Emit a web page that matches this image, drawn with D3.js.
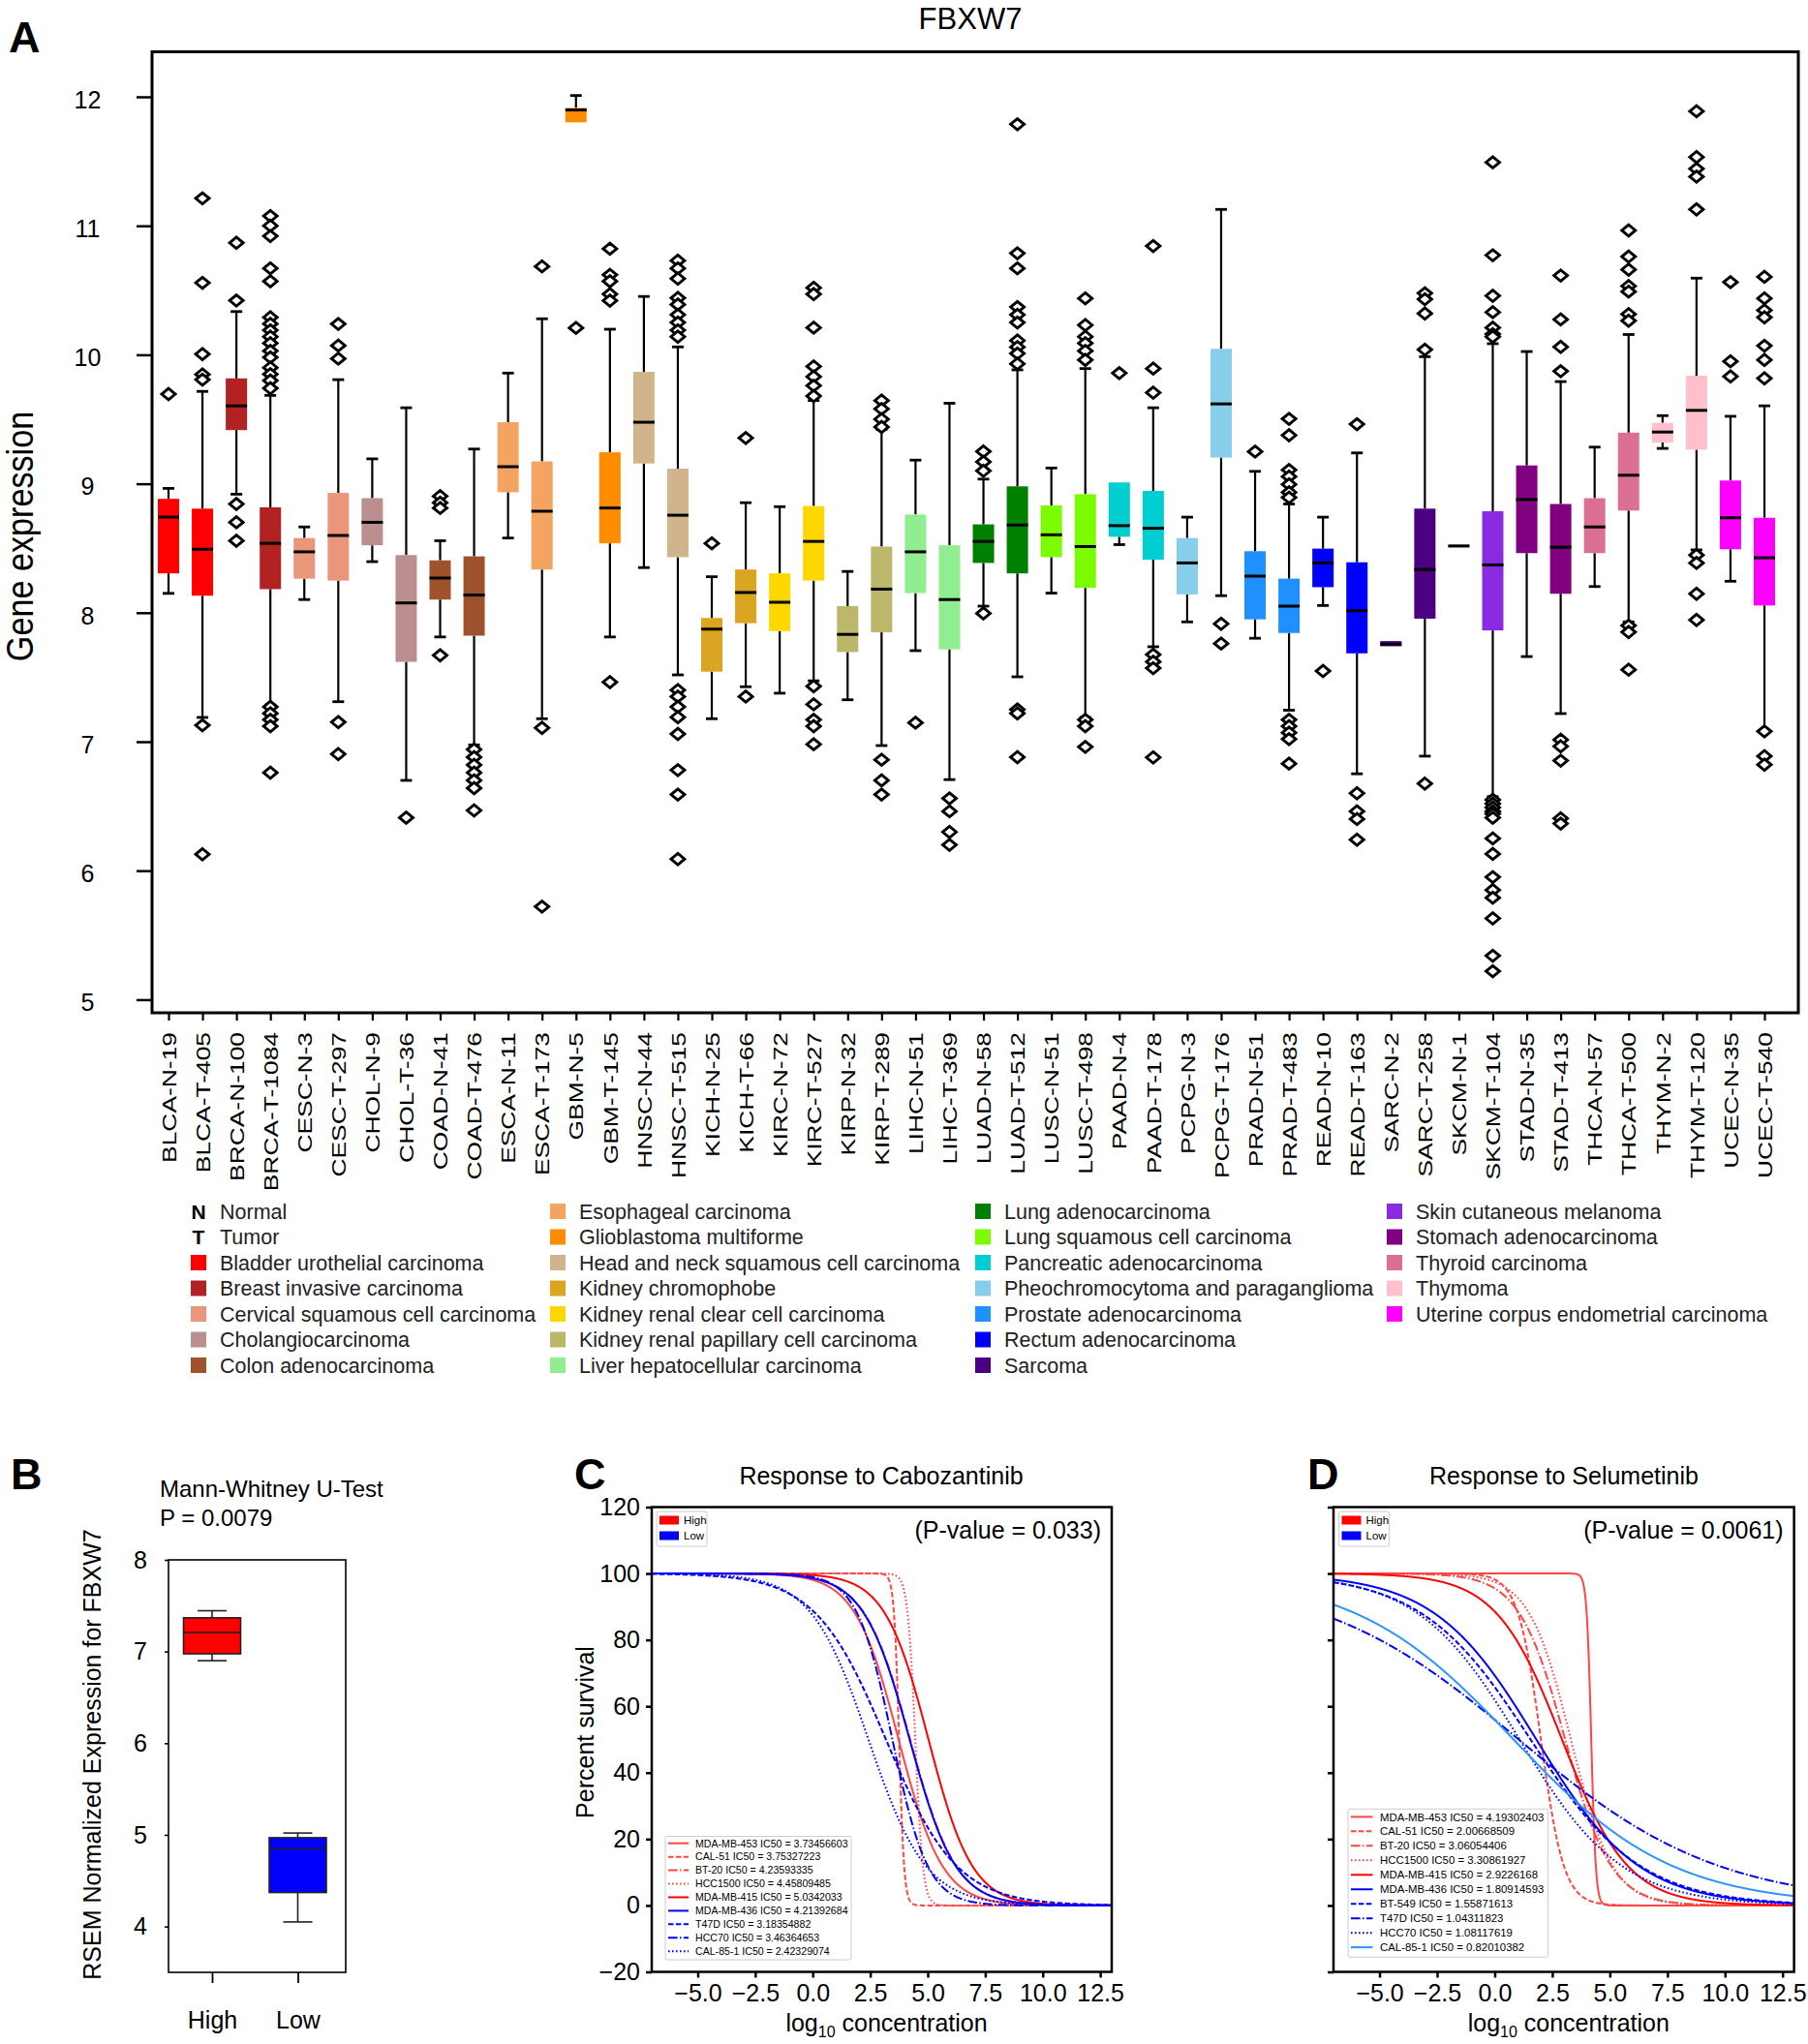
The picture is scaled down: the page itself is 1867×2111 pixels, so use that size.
<!DOCTYPE html>
<html><head><meta charset="utf-8">
<script src="https://cdn.jsdelivr.net/npm/d3@7"></script>
<style>
body{margin:0;background:#fff}
svg{display:block}
text{font-family:"Liberation Sans",Arial,Helvetica,sans-serif;fill:#000}
</style>
</head><body>
<svg id="chart" width="1867" height="2111"></svg>
<script>
// ---------------- Panel A data ----------------
const samples = ["BLCA-N-19","BLCA-T-405","BRCA-N-100","BRCA-T-1084","CESC-N-3","CESC-T-297","CHOL-N-9","CHOL-T-36","COAD-N-41","COAD-T-476","ESCA-N-11","ESCA-T-173","GBM-N-5","GBM-T-145","HNSC-N-44","HNSC-T-515","KICH-N-25","KICH-T-66","KIRC-N-72","KIRC-T-527","KIRP-N-32","KIRP-T-289","LIHC-N-51","LIHC-T-369","LUAD-N-58","LUAD-T-512","LUSC-N-51","LUSC-T-498","PAAD-N-4","PAAD-T-178","PCPG-N-3","PCPG-T-176","PRAD-N-51","PRAD-T-483","READ-N-10","READ-T-163","SARC-N-2","SARC-T-258","SKCM-N-1","SKCM-T-104","STAD-N-35","STAD-T-413","THCA-N-57","THCA-T-500","THYM-N-2","THYM-T-120","UCEC-N-35","UCEC-T-540"];
const whiskerLow  = [8.15,7.188,8.919,7.284,8.102,7.31,8.396,6.70,7.812,6.975,8.579,7.178,11.802,7.812,8.35,7.518,7.178,7.426,7.376,7.472,7.325,6.97,7.706,6.706,8.051,7.503,8.152,7.188,8.528,7.736,7.929,8.132,7.802,7.244,8.056,6.751,7.74,6.888,8.518,6.574,7.66,7.218,8.203,7.929,9.274,8.487,8.244,7.081];
const q1          = [8.305,8.132,9.416,8.183,8.264,8.249,8.523,7.619,8.102,7.822,8.934,8.335,11.802,8.538,9.157,8.431,7.543,7.919,7.858,8.249,7.695,7.848,8.152,7.716,8.386,8.305,8.431,8.193,8.589,8.411,8.142,9.203,7.949,7.843,8.198,7.685,7.74,7.954,8.518,7.863,8.462,8.147,8.462,8.792,9.32,9.264,8.492,8.056];
const median      = [8.741,8.492,9.604,8.538,8.472,8.599,8.701,8.076,8.269,8.137,9.132,8.787,11.898,8.812,9.477,8.756,7.873,8.157,8.081,8.553,7.832,8.183,8.472,8.102,8.553,8.68,8.604,8.513,8.675,8.655,8.386,9.619,8.284,8.051,8.386,8.015,7.756,8.335,8.518,8.371,8.878,8.508,8.665,9.066,9.401,9.569,8.736,8.426];
const q3          = [8.883,8.807,9.817,8.817,8.579,8.929,8.888,8.447,8.406,8.437,9.477,9.173,11.914,9.244,9.868,9.117,7.959,8.335,8.305,8.827,8.051,8.513,8.761,8.523,8.685,8.98,8.832,8.919,9.01,8.944,8.579,10.046,8.477,8.264,8.497,8.391,7.78,8.807,8.518,8.787,9.142,8.843,8.888,9.396,9.472,9.838,9.025,8.736];
const whiskerHigh = [8.964,9.716,10.335,9.685,8.665,9.807,9.193,9.589,8.558,9.269,9.858,10.279,12.01,10.198,10.452,10.061,8.279,8.853,8.822,9.645,8.32,9.421,9.183,9.624,9.036,9.883,9.122,9.893,9.01,9.589,8.741,11.127,9.096,8.843,8.741,9.239,7.78,9.985,8.518,10.086,10.025,9.792,9.284,10.157,9.528,10.594,9.523,9.604];
const outliers = [
 [9.695],
 [11.213,10.558,10.005,9.848,9.807,7.127,6.127],
 [10.868,10.421,8.843,8.701,8.558],
 [11.076,11.0,10.92,10.67,10.57,10.29,10.24,10.19,10.14,10.09,10.03,9.98,9.9,9.85,9.8,9.74,7.27,7.22,7.17,7.12,6.76],
 [],
 [10.239,10.071,9.97,7.152,6.904],
 [],
 [6.411],
 [8.904,8.853,8.812,7.67],
 [6.94,6.88,6.82,6.76,6.7,6.64,6.467],
 [],
 [10.685,7.107,5.721],
 [10.208],
 [10.822,10.62,10.57,10.47,10.42,7.462],
 [],
 [10.73,10.67,10.59,10.44,10.39,10.31,10.25,10.19,10.14,7.4,7.35,7.27,7.19,7.06,6.78,6.59,6.09],
 [8.538],
 [9.355,7.35],
 [],
 [10.52,10.47,10.21,9.91,9.83,9.76,9.68,7.43,7.29,7.17,7.12,6.98],
 [],
 [9.645,9.58,9.5,9.44,6.86,6.7,6.59],
 [7.147],
 [6.56,6.46,6.3,6.2],
 [9.25,9.17,9.1,7.995],
 [11.787,10.787,10.67,10.37,10.31,10.25,10.11,10.06,10.01,9.93,7.25,7.22,6.88],
 [],
 [10.437,10.23,10.14,10.09,10.03,9.96,7.17,7.12,6.96],
 [9.858],
 [10.843,9.893,9.706,7.675,7.62,7.57,6.878],
 [],
 [7.914,7.761],
 [9.249],
 [9.503,9.376,9.107,9.056,8.995,8.934,8.893,7.17,7.12,7.07,7.02,6.83],
 [7.548],
 [9.462,6.6,6.46,6.4,6.24],
 [],
 [10.477,10.43,10.32,10.04,6.675],
 [],
 [11.492,10.772,10.457,10.33,10.21,10.16,10.14,6.55,6.52,6.49,6.46,6.44,6.41,6.25,6.13,5.95,5.85,5.79,5.63,5.34,5.22],
 [],
 [10.614,10.274,10.061,9.873,7.015,6.964,6.853,6.406,6.365],
 [],
 [10.964,10.761,10.66,10.533,10.49,10.315,10.264,7.9,7.85,7.558],
 [],
 [11.888,11.533,11.442,11.381,11.127,8.447,8.386,8.147,7.944],
 [10.563,9.949,9.832],
 [10.604,10.437,10.345,10.29,10.07,9.96,9.817,7.08,6.888,6.822]
];
const yTicksA = [5,6,7,8,9,10,11,12];

const cancerCodes  = ["BLCA","BRCA","CESC","CHOL","COAD","ESCA","GBM","HNSC","KICH","KIRC","KIRP","LIHC","LUAD","LUSC","PAAD","PCPG","PRAD","READ","SARC","SKCM","STAD","THCA","THYM","UCEC"];
const cancerNames  = ["Bladder urothelial carcinoma","Breast invasive carcinoma","Cervical squamous cell carcinoma","Cholangiocarcinoma","Colon adenocarcinoma","Esophageal carcinoma","Glioblastoma multiforme","Head and neck squamous cell carcinoma","Kidney chromophobe","Kidney renal clear cell carcinoma","Kidney renal papillary cell carcinoma","Liver hepatocellular carcinoma","Lung adenocarcinoma","Lung squamous cell carcinoma","Pancreatic adenocarcinoma","Pheochromocytoma and paraganglioma","Prostate adenocarcinoma","Rectum adenocarcinoma","Sarcoma","Skin cutaneous melanoma","Stomach adenocarcinoma","Thyroid carcinoma","Thymoma","Uterine corpus endometrial carcinoma"];
const cancerColors = ["#ff0000","#b22222","#e9967a","#bc8f8f","#a0522d","#f4a460","#ff8c00","#d2b48c","#daa520","#ffd700","#bdb76b","#90ee90","#008000","#7cfc00","#00ced1","#87ceeb","#1e90ff","#0000ff","#4b0082","#8a2be2","#800080","#db7093","#ffc0cb","#ff00ff"];

// ---------------- Panel B data ----------------
const groupsB = ["High","Low"];
const bWhiskerLow  = [6.90,4.05];
const bQ1          = [6.975,4.371];
const bMedian      = [7.207,4.85];
const bQ3          = [7.368,4.969];
const bWhiskerHigh = [7.445,5.02];
const bColors = ["#ff0000","#0000ff"];
const yTicksB = [4,5,6,7,8];

// ---------------- Panel C / D data (dose-response fits) ----------------
const linesC  = ["MDA-MB-453","CAL-51","BT-20","HCC1500","MDA-MB-415","MDA-MB-436","T47D","HCC70","CAL-85-1"];
const ic50C   = [3.73456603,3.75327223,4.23593335,4.45809485,5.0342033,4.21392684,3.18354882,3.46364653,2.42329074];
const slopeC  = [1.05,9,1.0,6,1.05,1.0,0.65,1.3,0.8];
const colorC  = ["#ff4545","#ff4545","#ff4545","#ff4545","#ff0000","#0000ff","#0000ff","#0000ff","#0000ff"];
const dashC   = ["solid","dashed","dashdot","dotted","solid","solid","dashed","dashdot","dotted"];
const pvalC   = "(P-value = 0.033)";

const linesD  = ["MDA-MB-453","CAL-51","BT-20","HCC1500","MDA-MB-415","MDA-MB-436","BT-549","T47D","HCC70","CAL-85-1"];
const ic50D   = [4.19302403,2.00668509,3.06054406,3.30861927,2.9226168,1.80914593,1.55871613,1.04311823,1.08117619,0.82010382];
const slopeD  = [10,2.0,1.0,1.1,0.7,0.45,0.42,0.23,0.45,0.29];
const colorD  = ["#ff4545","#ff4545","#ff4545","#ff4545","#ff0000","#0000ff","#0000ff","#0000ff","#0000ff","#2b95ff"];
const dashD   = ["solid","dashed","dashdot","dotted","solid","solid","dashed","dashdot","dotted","solid"];
const pvalD   = "(P-value = 0.0061)";

const xTicksCD = [-5,-2.5,0,2.5,5,7.5,10,12.5];
const yTicksCD = [-20,0,20,40,60,80,100,120];

// =====================================================
const svg = d3.select("#chart");
const FONT = '"Liberation Sans",Arial,Helvetica,sans-serif';

function panelLetter(t,x,y){
  svg.append("text").attr("x",x).attr("y",y).attr("font-size",45).attr("font-weight","bold").text(t);
}

// ---------- Panel A ----------
const A = {left:157, right:1857, top:53.5, bottom:1046};
const xA = d3.scalePoint().domain(samples).range([174,1822]);
const yA = d3.scaleLinear().domain([4.898,12.349]).range([A.bottom,A.top]);
const colorOf = s => cancerColors[cancerCodes.indexOf(s.split("-")[0])];

panelLetter("A",9,54);
svg.append("text").attr("x",1002).attr("y",30).attr("text-anchor","middle").attr("font-size",31).text("FBXW7");

const gA = svg.append("g");
const BW = 22, CW = 12;
const boxes = gA.selectAll("g.box").data(d3.range(samples.length)).join("g").attr("class","box")
  .attr("transform",i=>`translate(${xA(samples[i])},0)`);
boxes.append("line").attr("x1",0).attr("x2",0).attr("y1",i=>yA(whiskerHigh[i])).attr("y2",i=>yA(q3[i])).attr("stroke","#000").attr("stroke-width",2.2);
boxes.append("line").attr("x1",0).attr("x2",0).attr("y1",i=>yA(q1[i])).attr("y2",i=>yA(whiskerLow[i])).attr("stroke","#000").attr("stroke-width",2.2);
boxes.filter(i=>whiskerHigh[i]>q3[i]).append("line").attr("x1",-CW/2).attr("x2",CW/2).attr("y1",i=>yA(whiskerHigh[i])).attr("y2",i=>yA(whiskerHigh[i])).attr("stroke","#000").attr("stroke-width",2.8);
boxes.filter(i=>whiskerLow[i]<q1[i]).append("line").attr("x1",-CW/2).attr("x2",CW/2).attr("y1",i=>yA(whiskerLow[i])).attr("y2",i=>yA(whiskerLow[i])).attr("stroke","#000").attr("stroke-width",2.8);
boxes.append("rect").attr("x",-BW/2).attr("width",BW).attr("y",i=>yA(q3[i])).attr("height",i=>Math.max(yA(q1[i])-yA(q3[i]),1.5)).attr("fill",i=>colorOf(samples[i]));
boxes.append("line").attr("x1",-BW/2).attr("x2",BW/2).attr("y1",i=>yA(median[i])).attr("y2",i=>yA(median[i])).attr("stroke","#000").attr("stroke-width",3);
const diamond = "M0,-5.8L7,0L0,5.8L-7,0Z";
boxes.selectAll("path.out").data(i=>outliers[i]).join("path").attr("class","out")
  .attr("d",diamond).attr("transform",v=>`translate(0,${yA(v)})`)
  .attr("fill","#fff").attr("stroke","#000").attr("stroke-width",2.9);

const axLA = svg.append("g").attr("transform",`translate(${A.left},0)`)
  .call(d3.axisLeft(yA).tickValues(yTicksA).tickSize(16).tickFormat(d3.format("d")));
axLA.select(".domain").remove();
axLA.selectAll(".tick line").attr("stroke-width",2.5);
axLA.selectAll(".tick text").attr("x",90.5-A.left).attr("text-anchor","middle").attr("dy","0.45em")
  .attr("font-size",25).attr("font-family",FONT);

const axBA = svg.append("g").attr("transform",`translate(0,${A.bottom})`)
  .call(d3.axisBottom(xA).tickSize(8));
axBA.select(".domain").remove();
axBA.selectAll(".tick line").attr("stroke-width",2.2);
axBA.selectAll(".tick text").attr("x",0).attr("y",0).attr("dy","0.36em").attr("text-anchor","end")
  .attr("transform","translate(0,20) rotate(-90) scale(1.32,1)")
  .attr("font-size",20).attr("font-family",FONT);

svg.append("rect").attr("x",A.left).attr("y",A.top).attr("width",A.right-A.left).attr("height",A.bottom-A.top)
  .attr("fill","none").attr("stroke","#000").attr("stroke-width",3);

svg.append("text").attr("transform","translate(34,554) rotate(-90) scale(0.9,1)").attr("text-anchor","middle")
  .attr("font-size",38).text("Gene expression");

// legend A
const legX = [197,568,1007,1432];
const legRow0 = 1251, legStep = 26.5;
const legendItems = [];
legendItems.push({col:0,row:0,letter:"N",label:"Normal"});
legendItems.push({col:0,row:1,letter:"T",label:"Tumor"});
const colSizes = [5,7,7,5];
let k = 0;
colSizes.forEach((n,c)=>{
  for(let r=0;r<n;r++){
    legendItems.push({col:c,row:(c===0?r+2:r),color:cancerColors[k],label:cancerNames[k]});
    k++;
  }
});
const gLeg = svg.append("g");
legendItems.forEach(it=>{
  const x = legX[it.col], y = legRow0 + it.row*legStep;
  if(it.letter){
    gLeg.append("text").attr("x",x+8).attr("y",y).attr("dy","0.36em").attr("text-anchor","middle")
      .attr("font-size",21).attr("font-weight","bold").text(it.letter);
  } else {
    gLeg.append("rect").attr("x",x).attr("y",y-8).attr("width",16).attr("height",16).attr("fill",it.color);
  }
  gLeg.append("text").attr("x",x+30).attr("y",y).attr("dy","0.36em").attr("font-size",21.5)
    .style("fill","#222").text(it.label);
});

// ---------- Panel B ----------
const B = {left:174,right:357,top:1611,bottom:2037};
const xB = d3.scalePoint().domain(groupsB).range([219,307.5]);
const yB = d3.scaleLinear().domain([3.5,8]).range([B.bottom,B.top]);
panelLetter("B",11,1538);
svg.append("text").attr("x",165).attr("y",1546).attr("font-size",24).text("Mann-Whitney U-Test");
svg.append("text").attr("x",165).attr("y",1576).attr("font-size",24).text("P = 0.0079");

const gB = svg.append("g");
groupsB.forEach((g,i)=>{
  const cx = xB(g), w = 59, cw = 30;
  gB.append("line").attr("x1",cx).attr("x2",cx).attr("y1",yB(bWhiskerHigh[i])).attr("y2",yB(bWhiskerLow[i])).attr("stroke","#222").attr("stroke-width",1.6);
  gB.append("line").attr("x1",cx-cw/2).attr("x2",cx+cw/2).attr("y1",yB(bWhiskerHigh[i])).attr("y2",yB(bWhiskerHigh[i])).attr("stroke","#222").attr("stroke-width",1.6);
  gB.append("line").attr("x1",cx-cw/2).attr("x2",cx+cw/2).attr("y1",yB(bWhiskerLow[i])).attr("y2",yB(bWhiskerLow[i])).attr("stroke","#222").attr("stroke-width",1.6);
  gB.append("rect").attr("x",cx-w/2).attr("width",w).attr("y",yB(bQ3[i])).attr("height",yB(bQ1[i])-yB(bQ3[i]))
    .attr("fill",bColors[i]).attr("stroke","#222").attr("stroke-width",1.6);
  gB.append("line").attr("x1",cx-w/2).attr("x2",cx+w/2).attr("y1",yB(bMedian[i])).attr("y2",yB(bMedian[i])).attr("stroke","#222").attr("stroke-width",1.6);
});
const axLB = svg.append("g").attr("transform",`translate(${B.left},0)`)
  .call(d3.axisLeft(yB).tickValues(yTicksB).tickSize(4).tickPadding(18).tickFormat(d3.format("d")));
axLB.select(".domain").remove();
axLB.selectAll(".tick line").attr("stroke-width",1.6);
axLB.selectAll(".tick text").attr("font-size",25).attr("font-family",FONT);
const axBB = svg.append("g").attr("transform",`translate(0,${B.bottom})`)
  .call(d3.axisBottom(xB).tickSize(11).tickPadding(29));
axBB.select(".domain").remove();
axBB.selectAll(".tick line").attr("stroke-width",1.8);
axBB.selectAll(".tick text").attr("font-size",25).attr("font-family",FONT);
svg.append("rect").attr("x",B.left).attr("y",B.top).attr("width",B.right-B.left).attr("height",B.bottom-B.top)
  .attr("fill","none").attr("stroke","#000").attr("stroke-width",1.6);
svg.append("text").attr("transform","translate(104,1812) rotate(-90)").attr("text-anchor","middle")
  .attr("font-size",25).text("RSEM Normalized Expression for FBXW7");

// ---------- Panels C & D ----------
const dashMap = {solid:null, dashed:"5.5,2.4", dashdot:"9.6,2.4,1.5,2.4", dotted:"1.6,2.4"};
const xGrid = d3.range(-7,13.0001,0.01);

function responsePanel(opt){
  const {left,right,top,bottom,letter,letterX,title,titleX,pval,names,ic50,slope,colors,dashes,showYLabels,
         hlBox,lineLeg,legFont,id} = opt;
  const x = d3.scaleLinear().domain([-7,13]).range([left,right]);
  const y = d3.scaleLinear().domain([-20,120]).range([bottom,top]);
  panelLetter(letter,letterX,1538);
  svg.append("text").attr("x",titleX).attr("y",1533).attr("text-anchor","middle").attr("font-size",25).text(title);

  svg.append("clipPath").attr("id",id).append("rect").attr("x",left).attr("y",top).attr("width",right-left).attr("height",bottom-top);
  const g = svg.append("g").attr("clip-path",`url(#${id})`);
  const line = d3.line().x(d=>x(d[0])).y(d=>y(d[1]));
  names.forEach((n,i)=>{
    const pts = xGrid.map(v=>[v, 100/(1+Math.exp(slope[i]*(v-ic50[i])))]);
    g.append("path").attr("d",line(pts)).attr("fill","none").attr("stroke",colors[i]).attr("stroke-width",2)
      .attr("stroke-dasharray",dashMap[dashes[i]]);
  });

  const axL = svg.append("g").attr("transform",`translate(${left},0)`)
    .call(d3.axisLeft(y).tickValues(yTicksCD).tickSize(6).tickPadding(6).tickFormat(showYLabels?d3.format("d"):()=>""));
  axL.select(".domain").remove();
  axL.selectAll(".tick line").attr("stroke-width",2.5);
  axL.selectAll(".tick text").attr("font-size",25).attr("font-family",FONT);
  const axB = svg.append("g").attr("transform",`translate(0,${bottom})`)
    .call(d3.axisBottom(x).tickValues(xTicksCD).tickSize(6).tickPadding(7).tickFormat(d3.format(".1f")));
  axB.select(".domain").remove();
  axB.selectAll(".tick line").attr("stroke-width",2.5);
  axB.selectAll(".tick text").attr("font-size",25).attr("font-family",FONT);
  svg.append("rect").attr("x",left).attr("y",top).attr("width",right-left).attr("height",bottom-top)
    .attr("fill","none").attr("stroke","#000").attr("stroke-width",2.5);

  const cx = (left+right)/2 + 5;
  const xl = svg.append("text").attr("x",cx).attr("y",2098).attr("text-anchor","middle").attr("font-size",25);
  xl.append("tspan").text("log");
  xl.append("tspan").attr("font-size",16).attr("dy",6).text("10");
  xl.append("tspan").attr("dy",-6).text(" concentration");

  svg.append("text").attr("x",right-11).attr("y",1588.5).attr("text-anchor","end").attr("font-size",25).text(pval);

  svg.append("rect").attr("x",hlBox[0]).attr("y",1561).attr("width",52).attr("height",36).attr("rx",2)
    .attr("fill","#fff").attr("stroke","#ccc").attr("stroke-width",1);
  [["High","#ff0000",1570],["Low","#0000ff",1586]].forEach(([t,c,yy])=>{
    svg.append("rect").attr("x",hlBox[0]+3).attr("y",yy-4.5).attr("width",20).attr("height",9).attr("fill",c);
    svg.append("text").attr("x",hlBox[0]+28).attr("y",yy).attr("dy","0.36em").attr("font-size",11.5).text(t);
  });

  const [bx,by,bw,bh,row0,step,sx0,sx1,tx] = lineLeg;
  svg.append("rect").attr("x",bx).attr("y",by).attr("width",bw).attr("height",bh).attr("rx",2)
    .attr("fill","#fff").attr("stroke","#ccc").attr("stroke-width",1);
  names.forEach((n,i)=>{
    const yy = row0 + i*step;
    svg.append("line").attr("x1",sx0).attr("x2",sx1).attr("y1",yy).attr("y2",yy).attr("stroke",colors[i])
      .attr("stroke-width",2).attr("stroke-dasharray",dashMap[dashes[i]]);
    svg.append("text").attr("x",tx).attr("y",yy).attr("dy","0.36em").attr("font-size",legFont)
      .text(`${n} IC50 = ${ic50[i]}`);
  });
}

responsePanel({left:673,right:1148,top:1556.5,bottom:2036.5,letter:"C",letterX:593,title:"Response to Cabozantinib",titleX:910,
  pval:pvalC,names:linesC,ic50:ic50C,slope:slopeC,colors:colorC,dashes:dashC,showYLabels:true,
  hlBox:[678],lineLeg:[687,1896.5,192,127.5,1903.7,13.94,690,711,718],legFont:10.6,id:"clipC"});
responsePanel({left:1377,right:1852.6,top:1556.5,bottom:2036.5,letter:"D",letterX:1350,title:"Response to Selumetinib",titleX:1615,
  pval:pvalD,names:linesD,ic50:ic50D,slope:slopeD,colors:colorD,dashes:dashD,showYLabels:false,
  hlBox:[1382.5],lineLeg:[1392,1868.3,206.4,153,1876.4,14.97,1395,1417.5,1425],legFont:11.4,id:"clipD"});

svg.append("text").attr("transform","translate(613,1789) rotate(-90)").attr("text-anchor","middle")
  .attr("font-size",25).text("Percent survival");
</script>
</body></html>
